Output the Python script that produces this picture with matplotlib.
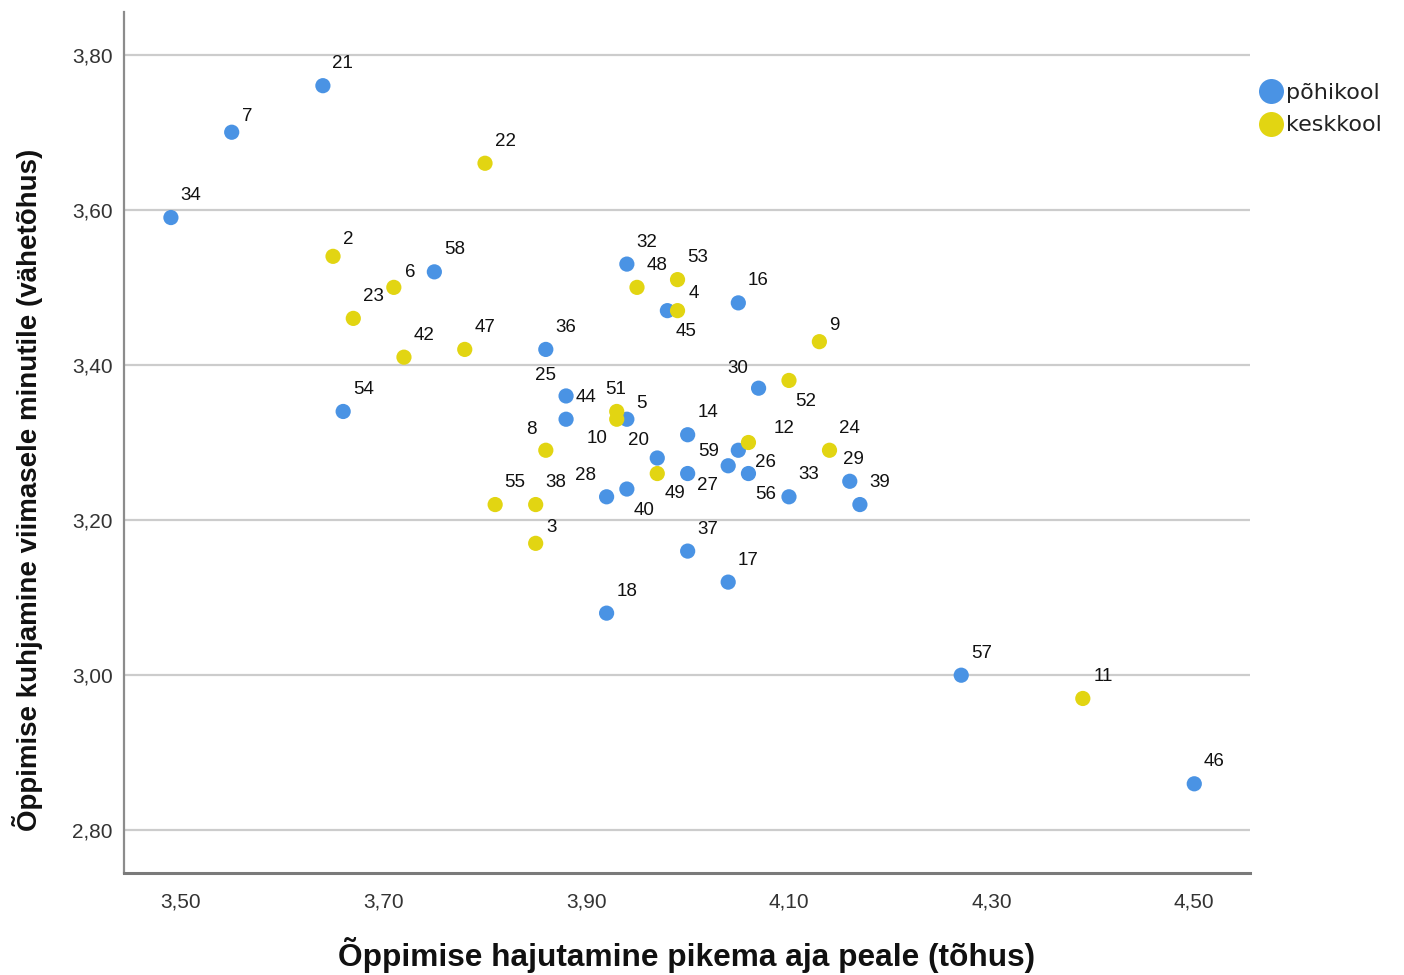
import matplotlib
matplotlib.use("Agg")
import matplotlib.pyplot as plt
from matplotlib.lines import Line2D
import numpy as np

# ---- data ----
ids_pohikool = [34, 7, 21, 58, 54, 36, 25, 44, 5, 32, 45, 16, 30, 14, 20,
                26, 59, 56, 33, 27, 29, 39, 28, 40, 37, 17, 18, 57, 46]
x_pohikool = [3.49, 3.55, 3.64, 3.75, 3.66, 3.86, 3.88, 3.88, 3.94, 3.94, 3.98, 4.05, 4.07, 4.00, 3.97,
              4.05, 4.04, 4.06, 4.10, 4.00, 4.16, 4.17, 3.92, 3.94, 4.00, 4.04, 3.92, 4.27, 4.50]
y_pohikool = [3.59, 3.70, 3.76, 3.52, 3.34, 3.42, 3.36, 3.33, 3.33, 3.53, 3.47, 3.48, 3.37, 3.31, 3.28,
              3.29, 3.27, 3.26, 3.23, 3.26, 3.25, 3.22, 3.23, 3.24, 3.16, 3.12, 3.08, 3.00, 2.86]

ids_keskkool = [22, 2, 6, 23, 42, 47, 48, 53, 4, 9, 52, 51, 10, 8, 12, 24, 49, 55, 38, 3, 11]
x_keskkool = [3.80, 3.65, 3.71, 3.67, 3.72, 3.78, 3.95, 3.99, 3.99, 4.13, 4.10, 3.93, 3.93, 3.86, 4.06,
              4.14, 3.97, 3.81, 3.85, 3.85, 4.39]
y_keskkool = [3.66, 3.54, 3.50, 3.46, 3.41, 3.42, 3.50, 3.51, 3.47, 3.43, 3.38, 3.34, 3.33, 3.29, 3.30,
              3.29, 3.26, 3.22, 3.22, 3.17, 2.97]

group_names = ["põhikool", "keskkool"]
x_ticks = [3.50, 3.70, 3.90, 4.10, 4.30, 4.50]
y_ticks = [2.80, 3.00, 3.20, 3.40, 3.60, 3.80]
x_label = "Õppimise hajutamine pikema aja peale (tõhus)"
y_label = "Õppimise kuhjamine viimasele minutile (vähetõhus)"

# ---- style ----
BLUE = "#4a93e4"
YELLOW = "#e2d512"
FONT = ["Liberation Sans", "DejaVu Sans"]
plt.rcParams["font.family"] = FONT

# label offsets (pixels, image coords: +x right, +y down) - style only
label_offsets = {
    7: (16, -16), 2: (15, -17), 6: (16, -15), 4: (16, -17), 9: (15, -16), 5: (15, -16), 3: (16, -16),
    45: (19, 21), 30: (-21, -20), 52: (17, 21), 25: (-21, -20), 51: (-1, -22), 8: (-14, -21),
    10: (-20, 19), 20: (-19, -18), 12: (36, -14), 26: (27, 12), 59: (-20, -14), 56: (17, 21),
    27: (20, 12), 29: (4, -22), 49: (18, 20), 28: (-21, -21), 40: (17, 21),
}
default_offset = (20, -22)

fig = plt.figure(figsize=(14.04, 9.75), dpi=100)
ax = fig.add_axes([124 / 1404, 1 - 873 / 975, (1250 - 124) / 1404, (873 - 12) / 975])

ax.set_xlim(3.4437, 4.555)
ax.set_ylim(2.745, 3.855)

ax.scatter(x_pohikool, y_pohikool, s=120, color=BLUE, edgecolors="none", zorder=3)
ax.scatter(x_keskkool, y_keskkool, s=120, color=YELLOW, edgecolors="none", zorder=3)

for ids, xs, ys in [(ids_pohikool, x_pohikool, y_pohikool), (ids_keskkool, x_keskkool, y_keskkool)]:
    for i, xv, yv in zip(ids, xs, ys):
        dx, dy = label_offsets.get(i, default_offset)
        ax.annotate(str(i), (xv, yv), xytext=(dx, -dy), textcoords="offset pixels",
                    ha="center", va="center", fontsize=13.5, color="#111111", zorder=4)

ax.set_xticks(x_ticks)
ax.set_yticks(y_ticks)
fmt = lambda v: f"{v:.2f}".replace(".", ",")
ax.set_xticklabels([fmt(v) for v in x_ticks])
ax.set_yticklabels([fmt(v) for v in y_ticks])
ax.tick_params(axis="both", length=0, labelsize=15, labelcolor="#333333")
ax.tick_params(axis="x", pad=14)
ax.tick_params(axis="y", pad=8)

ax.yaxis.grid(True, color="#cccccc", lw=1.6, zorder=0)
ax.xaxis.grid(False)
ax.set_axisbelow(True)
for s in ["top", "right"]:
    ax.spines[s].set_visible(False)
ax.spines["left"].set_color("#8c8c8c")
ax.spines["left"].set_linewidth(1.6)
ax.spines["bottom"].set_color("#7a7a7a")
ax.spines["bottom"].set_linewidth(2.2)

fig.text(687 / 1404, 1 - 955 / 975, x_label, ha="center", va="center",
         fontsize=22.8, fontweight="bold", color="#111111")
fig.text(28 / 1404, 1 - 490 / 975, y_label, ha="center", va="center", rotation=90,
         fontsize=20, fontweight="bold", color="#111111")

handles = [Line2D([], [], marker="o", ls="none", markersize=18, color=BLUE, markeredgewidth=0),
           Line2D([], [], marker="o", ls="none", markersize=18, color=YELLOW, markeredgewidth=0)]
fig.legend(handles, group_names, loc="upper left", bbox_to_anchor=(1245 / 1404, 1 - 72 / 975),
           frameon=False, handletextpad=0.05, labelspacing=0.55,
           handlelength=1.3, borderpad=0, labelcolor="#222222",
           prop={"family": ["DejaVu Sans"], "size": 16})

fig.savefig("out.png", dpi=100)
